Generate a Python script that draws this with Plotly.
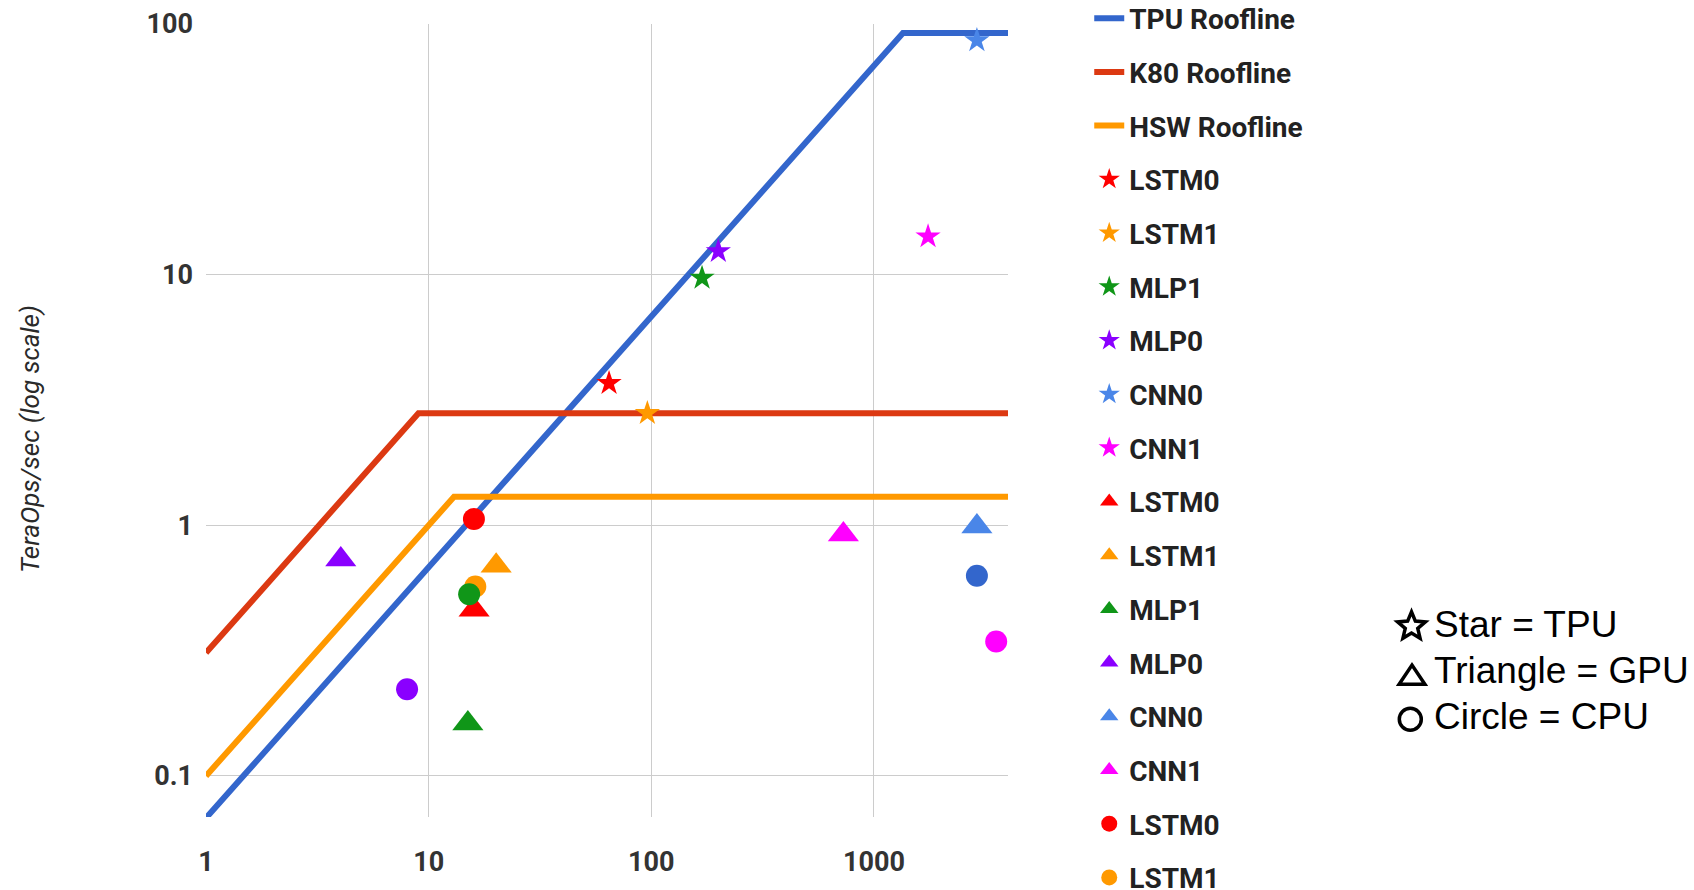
import math
import plotly.graph_objects as go

# Rooflines: operational intensity (ops per weight byte) vs TeraOps/sec
tpu_roof_x = [1, 1350, 4000]
tpu_roof_y = [0.068, 92, 92]
k80_roof_x = [1, 9, 4000]
k80_roof_y = [0.31, 2.8, 2.8]
hsw_roof_x = [1, 13, 4000]
hsw_roof_y = [0.1, 1.3, 1.3]

# Applications, in legend order
apps = ["LSTM0", "LSTM1", "MLP1", "MLP0", "CNN0", "CNN1"]

# TPU (stars)
tpu_x = [64.6, 96, 169, 200, 2900, 1750]
tpu_y = [3.69, 2.8, 9.7, 12.4, 86, 14.2]
# GPU (triangles)
gpu_x = [16.0, 20.1, 15.0, 4.03, 2900, 729]
gpu_y = [0.46, 0.69, 0.162, 0.73, 0.99, 0.92]
# CPU (circles)
cpu_x = [15.97, 16.2, 15.2, 8.0, 2900, 3540]
cpu_y = [1.06, 0.57, 0.531, 0.222, 0.629, 0.344]

star_colors = ["#ff0000", "#ff9900", "#109618", "#8a00ff", "#4a86e8", "#ff00ff"]
tri_colors = ["#ff0000", "#ff9900", "#109618", "#8a00ff", "#4a86e8", "#ff00ff"]
circ_colors = ["#ff0000", "#ff9900", "#109618", "#8a00ff", "#3366cc", "#ff00ff"]

# Legend entries that fit on the canvas (the rest of the CPU series run off the bottom)
cpu_in_legend = [True, True, False, False, False, False]

# Shape key shown to the right of the chart
key_labels = ["Star = TPU", "Triangle = GPU", "Circle = CPU"]

W, H = 1694, 890
plot_left, plot_right, plot_top, plot_bottom = 206, 1008, 24, 817


def fx(px):
    """Pixel column -> paper x."""
    return (px - plot_left) / (plot_right - plot_left)


def fy(py):
    """Pixel row -> paper y."""
    return (plot_bottom - py) / (plot_bottom - plot_top)


fig = go.Figure()

roofs = [
    ("TPU Roofline", tpu_roof_x, tpu_roof_y, "#3366cc"),
    ("K80 Roofline", k80_roof_x, k80_roof_y, "#dc3912"),
    ("HSW Roofline", hsw_roof_x, hsw_roof_y, "#ff9900"),
]
gi = 0
for name, xs, ys, col in roofs:
    fig.add_trace(go.Scatter(
        x=xs, y=ys, mode="lines", name=name,
        line=dict(color=col, width=6),
        legendgroup=f"g{gi}",
    ))
    gi += 1

for xs, ys, cols, sym, size, inleg in [
    (tpu_x, tpu_y, star_colors, "star", 19, [True] * 6),
    (gpu_x, gpu_y, tri_colors, "triangle-up", 27, [True] * 6),
    (cpu_x, cpu_y, circ_colors, "circle", 22, cpu_in_legend),
]:
    for app, xv, yv, col, show in zip(apps, xs, ys, cols, inleg):
        fig.add_trace(go.Scatter(
            x=[xv], y=[yv], mode="markers", name=app,
            marker=dict(symbol=sym, size=size, color=col, line=dict(width=0)),
            legendgroup=f"g{gi}", cliponaxis=False, showlegend=show,
        ))
        gi += 1

# Outlined glyphs of the shape key, drawn as shapes beside the labels
key_line = dict(color="black", width=3.5)
star_cx, star_cy, star_r = 1411.5, 626.4, 14.6
star_pts = []
for k in range(10):
    ang = math.radians(90 + 36 * k)
    rad = star_r if k % 2 == 0 else star_r * 0.45
    star_pts.append((star_cx + rad * math.cos(ang), star_cy - rad * math.sin(ang)))
star_path = "M " + " L ".join(f"{fx(px):.5f},{fy(py):.5f}" for px, py in star_pts) + " Z"

tri_pts = [(1399.1, 684.3), (1424.9, 684.3), (1412.0, 665.1)]
tri_path = "M " + " L ".join(f"{fx(px):.5f},{fy(py):.5f}" for px, py in tri_pts) + " Z"

circ_cx, circ_cy, circ_r = 1410.3, 719.2, 11.0
shapes = [
    dict(type="path", path=star_path, xref="paper", yref="paper", line=key_line,
         fillcolor="rgba(0,0,0,0)", layer="above"),
    dict(type="path", path=tri_path, xref="paper", yref="paper", line=key_line,
         fillcolor="rgba(0,0,0,0)", layer="above"),
    dict(type="circle", xref="paper", yref="paper",
         x0=fx(circ_cx - circ_r), x1=fx(circ_cx + circ_r),
         y0=fy(circ_cy + circ_r), y1=fy(circ_cy - circ_r),
         line=key_line, fillcolor="rgba(0,0,0,0)", layer="above"),
]

annotations = []
for lbl, yv in zip(key_labels, [624, 670, 716]):
    annotations.append(dict(
        text=lbl, x=fx(1432), y=fy(yv), xref="paper", yref="paper",
        xanchor="left", yanchor="middle", showarrow=False,
        font=dict(family="Liberation Sans", size=37, color="black"),
    ))
annotations.append(dict(
    text="TeraOps/sec (log scale)", textangle=-90,
    x=fx(30), y=fy(439), xref="paper", yref="paper",
    xanchor="center", yanchor="middle", showarrow=False,
    font=dict(family="Roboto", size=26, color="#2a2a2a", style="italic"),
))

tick_font = dict(family="Roboto", size=27, color="#333333", weight="bold")

fig.update_layout(
    width=W, height=H,
    margin=dict(l=plot_left, r=W - plot_right, t=plot_top, b=H - plot_bottom, autoexpand=False),
    paper_bgcolor="white", plot_bgcolor="white",
    showlegend=True,
    legend=dict(
        xref="container", yref="paper", x=0.643, y=fy(-6.5),
        xanchor="left", yanchor="top",
        font=dict(family="Roboto", size=28, color="#222222", weight="bold"),
        tracegroupgap=14.3, itemwidth=30, bgcolor="rgba(0,0,0,0)",
        maxheight=2000,
    ),
    xaxis=dict(
        type="log", range=[0, math.log10(4000)],
        tickvals=[1, 10, 100, 1000], ticktext=["1", "10", "100", "1000"],
        showgrid=True, gridcolor="#cccccc", gridwidth=1,
        zeroline=False, showline=False, ticks="",
        tickfont=tick_font, ticklabelstandoff=26,
    ),
    yaxis=dict(
        type="log", range=[math.log10(0.0686), 2],
        tickvals=[0.1, 1, 10, 100], ticktext=["0.1", "1", "10", "100"],
        showgrid=True, gridcolor="#cccccc", gridwidth=1,
        zeroline=False, showline=False, ticks="",
        tickfont=tick_font, ticklabelstandoff=12,
    ),
    shapes=shapes,
    annotations=annotations,
)

fig.write_html("out.html")
